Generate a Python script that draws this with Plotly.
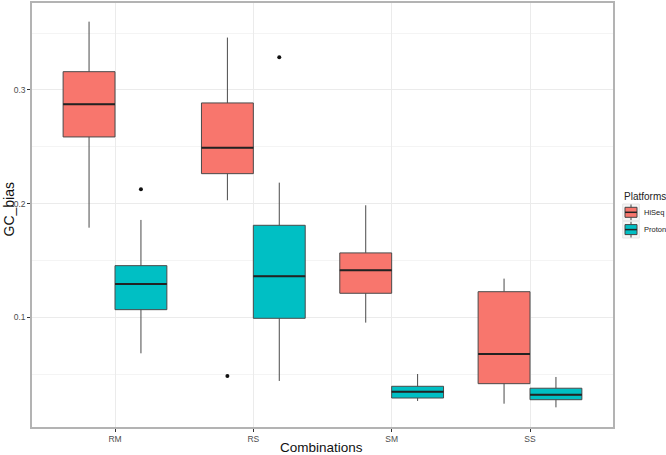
import plotly.graph_objects as go

categories = ["RM", "RS", "SM", "SS"]
platforms = ["HiSeq", "Proton"]
colors = {"HiSeq": "#F8766D", "Proton": "#00BFC4"}

# Box statistics per platform, in category order
upper = {"HiSeq": [0.360, 0.346, 0.1985, 0.134], "Proton": [0.1856, 0.2184, 0.0501, 0.0475]}
q3 = {"HiSeq": [0.316, 0.2885, 0.1566, 0.1225], "Proton": [0.1454, 0.1809, 0.0393, 0.0376]}
median = {"HiSeq": [0.2873, 0.2492, 0.1413, 0.0677], "Proton": [0.1293, 0.1361, 0.0346, 0.0319]}
q1 = {"HiSeq": [0.2586, 0.2263, 0.1211, 0.0416], "Proton": [0.1067, 0.0991, 0.0290, 0.0275]}
lower = {"HiSeq": [0.1788, 0.2029, 0.0953, 0.024], "Proton": [0.0683, 0.044, 0.0264, 0.0208]}

# Outliers: (category index, value)
outliers = {"HiSeq": [(1, 0.0484)], "Proton": [(0, 0.2126), (1, 0.3287)]}

W, H = 666, 455
L, R, T, B = 32, 613, 3, 427  # panel edges in pixels

box_w = 0.375
offsets = {"HiSeq": -box_w / 2, "Proton": box_w / 2}

fig = go.Figure()
for p in platforms:
    xs = [i + offsets[p] for i in range(len(categories))]
    fig.add_trace(go.Box(
        x=xs, q1=q1[p], median=median[p], q3=q3[p],
        lowerfence=lower[p], upperfence=upper[p],
        width=box_w, whiskerwidth=0, name=p,
        fillcolor=colors[p], line=dict(color="#4a4a4a", width=1),
        marker=dict(color="#333333"), boxpoints=False, showlegend=False,
    ))
for p in platforms:
    mx, my = [], []
    for i in range(len(categories)):
        c = i + offsets[p]
        mx += [c - box_w / 2, c + box_w / 2, None]
        my += [median[p][i], median[p][i], None]
    fig.add_trace(go.Scatter(x=mx, y=my, mode="lines", line=dict(color="#222222", width=2),
                             showlegend=False, hoverinfo="skip"))
    ox = [i + offsets[p] for i, v in outliers[p]]
    oy = [v for i, v in outliers[p]]
    fig.add_trace(go.Scatter(x=ox, y=oy, mode="markers", marker=dict(color="#111111", size=4),
                             showlegend=False))


def px(x):
    return (x - L) / (R - L)


def py(y):
    return (B - y) / (B - T)


shapes = []
annotations = []
# Manual legend (ggplot style keys)
annotations.append(dict(text="Platforms", x=px(621.5), y=py(197), xref="paper", yref="paper",
                        xanchor="left", yanchor="middle", showarrow=False,
                        font=dict(size=10, color="#222222")))
key_tops = {"HiSeq": 204, "Proton": 221.3}
for p in platforms:
    t = key_tops[p]
    b = t + 16.7
    shapes.append(dict(type="rect", xref="paper", yref="paper", x0=px(622.7), x1=px(639.3),
                       y0=py(b), y1=py(t), line=dict(color="#e5e5e5", width=1), fillcolor="#f5f5f5",
                       layer="above"))
    cx = (622.7 + 639.3) / 2
    shapes.append(dict(type="line", xref="paper", yref="paper", x0=px(cx), x1=px(cx),
                       y0=py(b - 0.5), y1=py(t + 0.5), line=dict(color="#444444", width=1), layer="above"))
    shapes.append(dict(type="rect", xref="paper", yref="paper", x0=px(625), x1=px(637),
                       y0=py(t + 13.3), y1=py(t + 3.3), line=dict(color="#444444", width=1),
                       fillcolor=colors[p], layer="above"))
    shapes.append(dict(type="line", xref="paper", yref="paper", x0=px(625), x1=px(637),
                       y0=py(t + 8.3), y1=py(t + 8.3), line=dict(color="#222222", width=1.5), layer="above"))
    annotations.append(dict(text=p, x=px(642), y=py(t + 8.3), xref="paper", yref="paper",
                            xanchor="left", yanchor="middle", showarrow=False,
                            font=dict(size=7.5, color="#222222")))

# Axis titles
annotations.append(dict(text="GC_bias", x=px(8), y=py(209.5), xref="paper", yref="paper",
                        xanchor="center", yanchor="middle", textangle=-90, showarrow=False,
                        font=dict(size=14, color="#111111")))
annotations.append(dict(text="Combinations", x=px(321.7), y=py(447), xref="paper", yref="paper",
                        xanchor="center", yanchor="middle", showarrow=False,
                        font=dict(size=13.5, color="#111111")))

font = "Liberation Sans, Arial, sans-serif"
fig.update_layout(
    width=W, height=H,
    margin=dict(l=L, r=W - R, t=T, b=H - B, autoexpand=False),
    paper_bgcolor="white", plot_bgcolor="white",
    font=dict(family=font, color="#333333"),
    showlegend=False,
    shapes=shapes, annotations=annotations,
)
fig.update_xaxes(
    range=[-0.6, 3.6], tickvals=list(range(len(categories))), ticktext=categories,
    showgrid=True, gridcolor="#ebebeb", gridwidth=1, zeroline=False,
    ticks="outside", ticklen=3, tickcolor="#333333",
    tickfont=dict(size=8.5, color="#4d4d4d"), automargin=False,
    showline=True, linecolor="#b3b3b3", linewidth=1.5, mirror=True,
)
fig.update_yaxes(
    range=[0.0035, 0.3764], tickvals=[0.1, 0.2, 0.3], ticktext=["0.1", "0.2", "0.3"],
    showgrid=True, gridcolor="#ebebeb", gridwidth=1, zeroline=False,
    minor=dict(tickvals=[0.05, 0.15, 0.25, 0.35], showgrid=True, gridcolor="#f4f4f4", ticks=""),
    ticks="outside", ticklen=3, tickcolor="#333333",
    tickfont=dict(size=8.5, color="#4d4d4d"), automargin=False,
    showline=True, linecolor="#b3b3b3", linewidth=1.5, mirror=True,
)
fig.write_html("out.html", config={"displayModeBar": False},
               post_script="document.body.style.margin='0';document.body.style.overflow='hidden';")
